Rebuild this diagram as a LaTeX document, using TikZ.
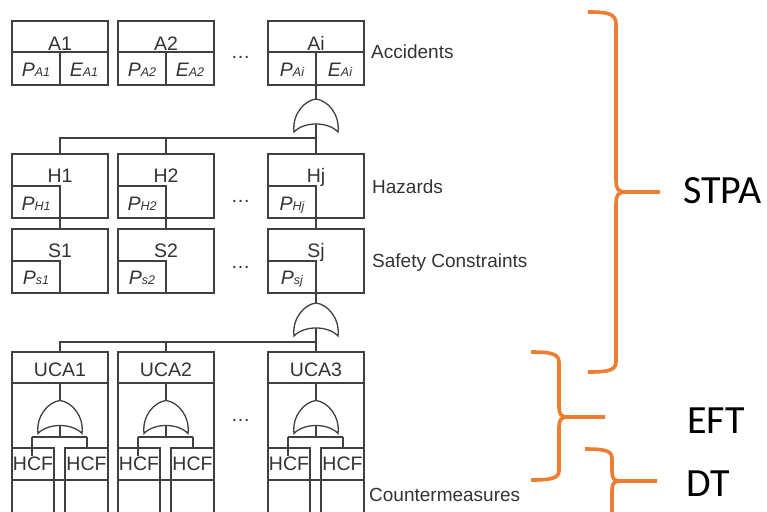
\documentclass[tikz,border=0pt]{standalone}
\usepackage{fontspec}
\setmainfont{Liberation Sans}
\newfontfamily\calibfont{Carlito}
\definecolor{lc}{RGB}{64,64,64}
\definecolor{tc}{RGB}{51,51,51}
\definecolor{og}{RGB}{237,125,49}
\newcommand\mysub[1]{{\fontsize{12.5}{13}\selectfont #1}}
\begin{document}
\begin{tikzpicture}[x=1pt,y=-1pt,
  ln/.style={draw=lc, line width=1.3pt},
  cell/.style={ln, rectangle, inner sep=0pt, outer sep=0pt},
  ttl/.style={font=\fontsize{19.5}{22}\selectfont, text=tc, anchor=base, inner sep=0pt},
  ptxt/.style={font=\fontsize{19.5}{22}\selectfont\itshape, text=tc, anchor=base, inner sep=0pt},
  lbl/.style={font=\fontsize{19}{22}\selectfont, text=tc, anchor=base west, inner sep=0pt},
  dotsty/.style={font=\fontsize{19.5}{22}\selectfont, text=tc, anchor=base, inner sep=0pt},
  big/.style={font=\calibfont\fontsize{40}{44}\selectfont, text=black, anchor=base west, inner sep=0pt},
  br/.style={draw=og, line width=3.6pt},
  orgate/.pic={
    \draw[ln, fill=white] (-22,16.5) .. controls (-24,-1) and (-12,-15) .. (0,-16.5)
      .. controls (12,-15) and (24,-1) .. (22,16.5)
      .. controls (12,5.8) and (-12,5.8) .. cycle;
    \coordinate (-top) at (0,-16.5);
    \coordinate (-bot) at (0,8.5);
  }]
\useasboundingbox (0,0) rectangle (767,511);
\clip (0,0) rectangle (767,511);

% columns
\foreach \cx/\n/\m/\u in {60/1/1/1, 166/2/2/2, 316/i/j/3}{
  % Accidents
  \node[cell, minimum width=96pt, minimum height=31pt, anchor=north] (A\n) at (\cx,21) {};
  \node[ttl] (tA\n) at (\cx,50) {A\n};
  \node[cell, minimum width=48pt, minimum height=33pt, anchor=north east] (PA\n) at (A\n.south) {};
  \node[cell, minimum width=48pt, minimum height=33pt, anchor=north west] (EA\n) at (A\n.south) {};
  \node[ptxt] (tPA\n) at ([yshift=9pt]PA\n.south) {P\mysub{A\n}};
  \node[ptxt] (tEA\n) at ([yshift=9pt]EA\n.south) {E\mysub{A\n}};
  % Hazards
  \node[cell, minimum width=96pt, minimum height=64pt, anchor=north] (H\m) at (\cx,154) {};
  \node[ttl] (tH\m) at (\cx,182) {H\m};
  \node[cell, minimum width=48pt, minimum height=32pt, anchor=south west] (PH\m) at (H\m.south west) {};
  \node[ptxt] (tPH\m) at ([yshift=8pt]PH\m.south) {P\mysub{H\m}};
  % Safety constraints
  \node[cell, minimum width=96pt, minimum height=64pt, anchor=north] (S\m) at (\cx,229) {};
  \node[ttl] (tS\m) at (\cx,257) {S\m};
  \node[cell, minimum width=48pt, minimum height=32pt, anchor=south west] (PS\m) at (S\m.south west) {};
  \node[ptxt] (tPS\m) at ([yshift=9pt]PS\m.south) {P\mysub{s\m}};
  \draw[ln] (H\m.south) -- (S\m.north);
  % UCA
  \node[cell, minimum width=96pt, minimum height=31pt, anchor=north] (UCA\u) at (\cx,352) {};
  \node[ttl] (tU\u) at (\cx,376) {UCA\u};
  \node[cell, minimum width=96pt, minimum height=150pt, anchor=north] (B\u) at (UCA\u.south) {};
  \pic (gu\u) at (\cx,417) {orgate};
  \draw[ln] (UCA\u.south) -- (gu\u-top);
  \coordinate (j\u) at (\cx,437);
  \coordinate (jl\u) at (\cx-28,437);
  \coordinate (jr\u) at (\cx+27,437);
  \node[cell, minimum width=42pt, minimum height=32pt, anchor=north west,
        font=\fontsize{19.5}{22}\selectfont, text=tc] (HL\u) at (\cx-48,448) {HCF};
  \node[cell, minimum width=43pt, minimum height=32pt, anchor=north west,
        font=\fontsize{19.5}{22}\selectfont, text=tc] (HR\u) at (\cx+5,448) {HCF};
  \node[cell, minimum width=42pt, minimum height=50pt, anchor=north west] (CL\u) at (HL\u.south west) {};
  \node[cell, minimum width=43pt, minimum height=50pt, anchor=north west] (CR\u) at (HR\u.south west) {};
  \draw[ln] (CL\u.north east) -- (CR\u.north west);
  \draw[ln] (gu\u-bot) -- (j\u);
  \draw[ln] (jl\u) -- (jr\u);
  \draw[ln] (jr\u) -- (jr\u |- HR\u.north);
  \draw[ln] (jl\u) -- ++(0,19);
}

% top gate
\pic (g1) at (316,115.5) {orgate};
\draw[ln] (PAi.south east) -- (g1-top);
\coordinate (b1) at (316,138);
\draw[ln] (g1-bot) -- (Hj.north);
\draw[ln] (H1.north) |- (b1);
\draw[ln] (H2.north) -- (H2.north |- b1);

% second gate
\pic (g2) at (316,319.5) {orgate};
\draw[ln] (Sj.south) -- (g2-top);
\coordinate (b2) at (316,342);
\draw[ln] (g2-bot) -- (UCA3.north);
\draw[ln] (UCA1.north) |- (b2);
\draw[ln] (UCA2.north) -- (UCA2.north |- b2);

% dots
\node[dotsty] (dA) at (240.5,58.5) {…};
\node[dotsty] (dH) at (240.5,202) {…};
\node[dotsty] (dS) at (240.5,268) {…};
\node[dotsty] (dU) at (240.5,421.5) {…};

% labels
\node[lbl] (lA) at (371,59) {Accidents};
\node[lbl] (lH) at (372,193) {Hazards};
\node[lbl] (lS) at (372,267) {Safety Constraints};
\node[lbl] (lC) at (369,501) {Countermeasures};

% braces
\draw[br] (588,12) .. controls (606,12) and (616,13) .. (616,24) -- (616,180)
  .. controls (616,189) and (618,192) .. (626,192) -- (660,192);
\draw[br] (626,192) .. controls (618,192) and (616,195) .. (616,204) -- (616,362)
  .. controls (616,371) and (606,372) .. (588,372);
\draw[br] (531,352) .. controls (548,352) and (559,353) .. (559,362) -- (559,407)
  .. controls (559,414) and (561,417) .. (568,417) -- (605,417);
\draw[br] (568,417) .. controls (561,417) and (559,420) .. (559,427) -- (559,471)
  .. controls (559,479) and (548,480) .. (531,480);
\draw[br] (585,449) .. controls (602,449) and (612,450) .. (612,458) -- (612,472)
  .. controls (612,478) and (614,481) .. (620,481) -- (657,481);
\draw[br] (620,481) .. controls (614,481) and (612,484) .. (612,490) -- (612,520);

\node[big] (stpa) at (683,203) {STPA};
\node[big] (eft) at (687,433) {EFT};
\node[big] (dt) at (686,496) {DT};
\end{tikzpicture}
\end{document}
